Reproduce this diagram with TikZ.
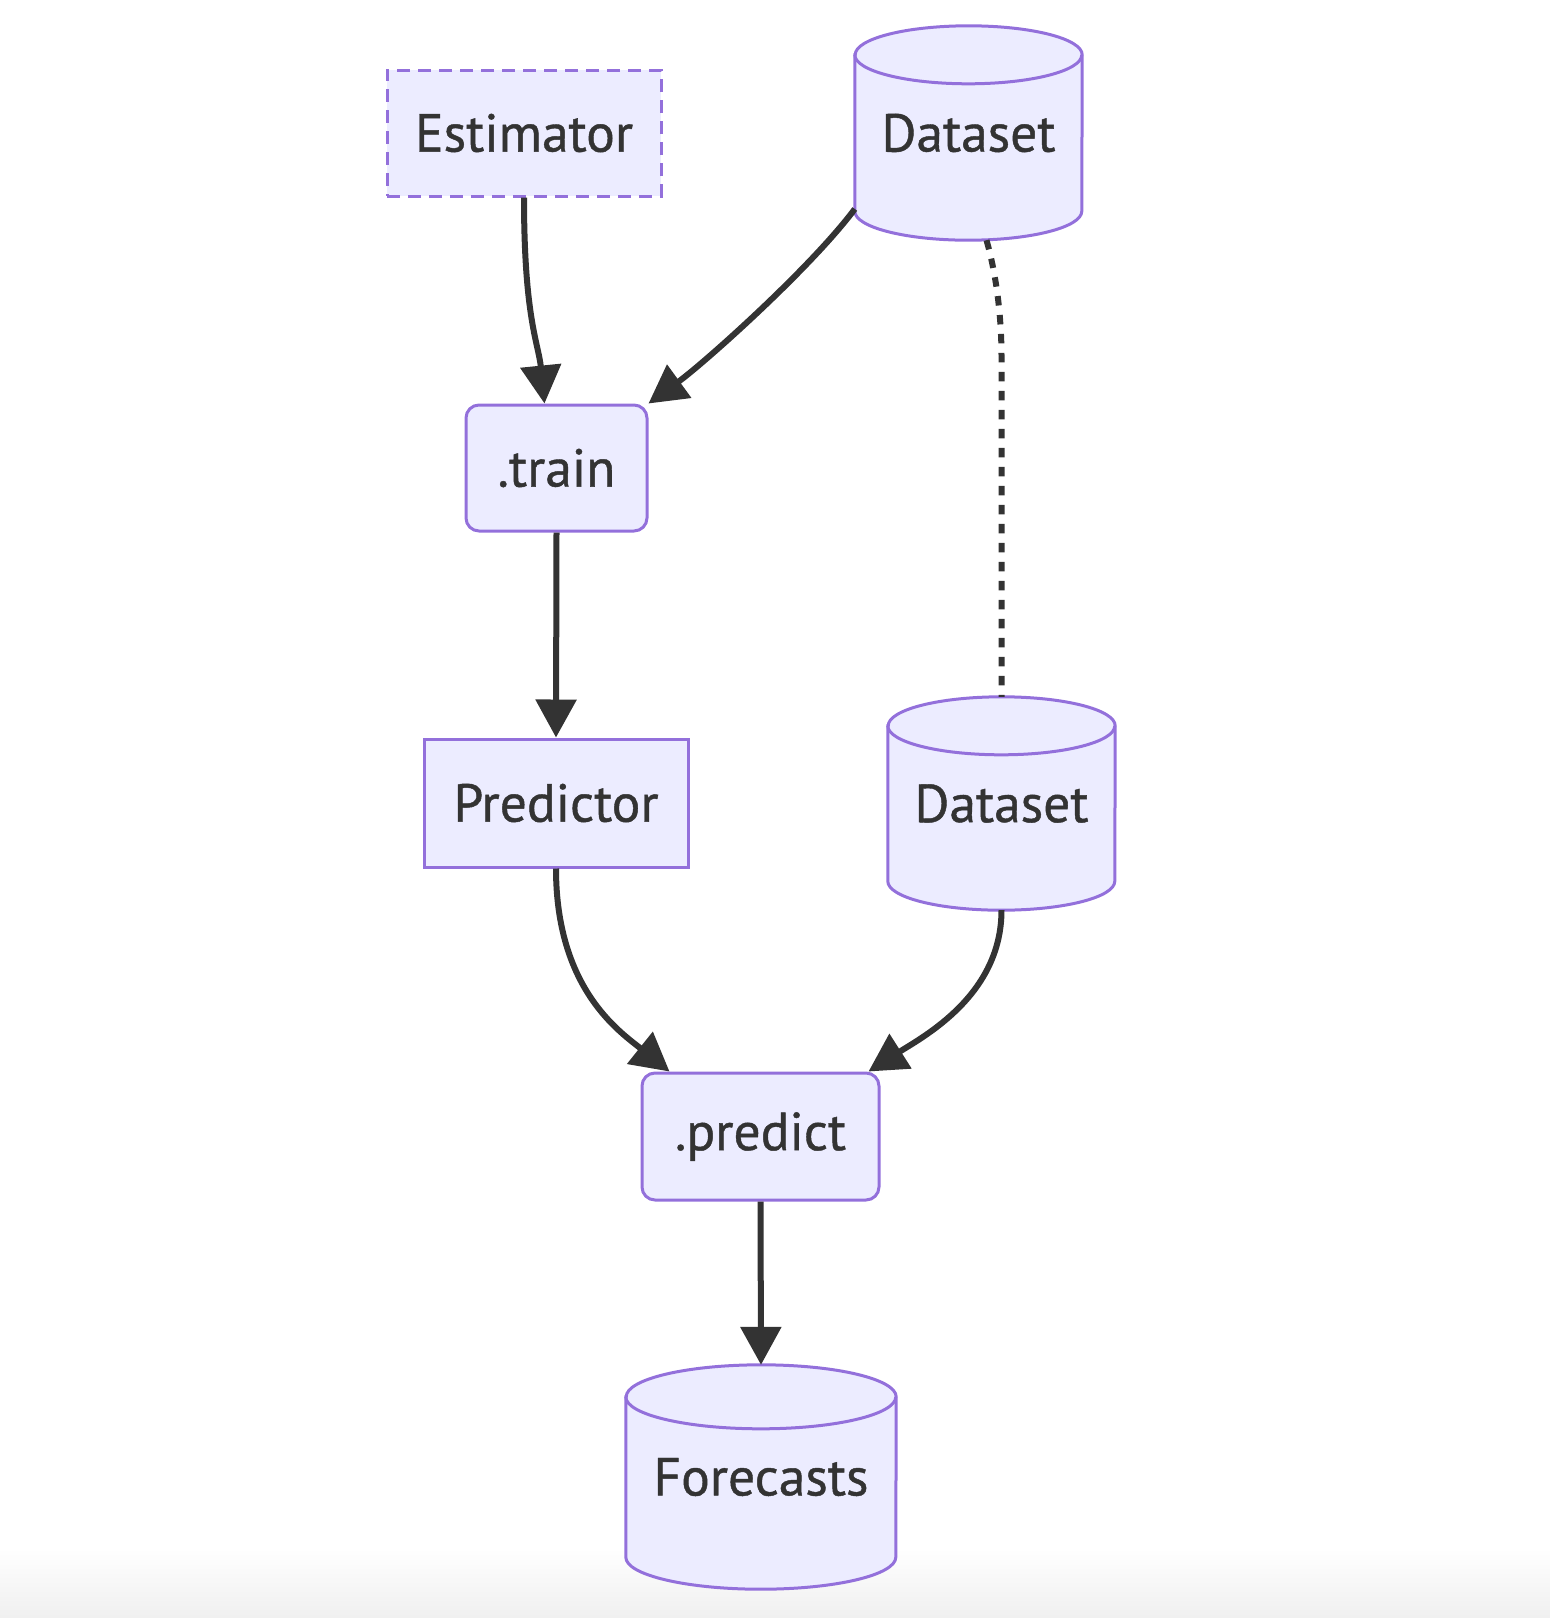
\documentclass[tikz,border=0pt]{standalone}
\usepackage{fontspec}
\setmainfont[FakeBold=0.8]{PT Sans}
\usetikzlibrary{arrows.meta,backgrounds}
\definecolor{nfill}{HTML}{ECECFF}
\definecolor{nline}{HTML}{9370DB}
\definecolor{eline}{HTML}{333333}
\newcommand\cylbody[3]{%
  \filldraw[cylfill] ([yshift=-#3]#1.north west) -- ([yshift=#3]#1.south west)
    arc[start angle=180,end angle=360,x radius=#2,y radius=#3]
    -- ([yshift=-#3]#1.north east)
    arc[start angle=0,end angle=180,x radius=#2,y radius=#3] -- cycle;
  \draw[nline, line width=3pt] ([yshift=-#3]#1.north west)
    arc[start angle=180,end angle=360,x radius=#2,y radius=#3];
}
\begin{document}
\begin{tikzpicture}[x=1pt,y=1pt,
  lbl/.style={font=\fontsize{53.5}{60}\selectfont, text=eline, inner sep=0pt},
  box/.style={lbl, draw=nline, fill=nfill, line width=3pt},
  rbox/.style={box, rounded corners=13pt},
  dbox/.style={box, dash pattern=on 13pt off 8pt},
  cylfill/.style={fill=nfill, draw=nline, line width=3pt},
  edge/.style={draw=eline, line width=6pt, -{Triangle[length=38pt,width=40pt]}},
  dotedge/.style={draw=eline, line width=6pt, dash pattern=on 9.5pt off 9.5pt}]
\useasboundingbox (0,0) rectangle (1550,-1618);

\node[dbox, minimum width=274pt, minimum height=126pt] (est) at (524,-133) {Estimator};
\node[lbl, minimum width=227pt, minimum height=214pt] (ds1) at (968.5,-133) {Dataset};
\node[rbox, minimum width=181pt, minimum height=126pt] (train) at (556.5,-468) {.train};
\node[box, minimum width=264pt, minimum height=128pt] (pred) at (556,-803) {Predictor};
\node[lbl, minimum width=227pt, minimum height=213pt] (ds2) at (1001.5,-803.5) {Dataset};
\node[rbox, minimum width=237pt, minimum height=127pt] (predict) at (760.5,-1136.5) {.predict};
\node[lbl, minimum width=270pt, minimum height=224pt] (fc) at (761,-1477) {Forecasts};

\begin{scope}[on background layer]
  \shade[top color=white, bottom color=black!6] (0,-1548) rectangle (1550,-1618);
  \cylbody{ds1}{113.5pt}{29pt}
  \cylbody{ds2}{113.5pt}{29pt}
  \cylbody{fc}{135pt}{32pt}
\end{scope}

\draw[edge] (est.south) .. controls +(0,-120) and +(-6,60) .. ([xshift=-12pt]train.north);
\draw[edge] ([yshift=-76pt]ds1.west) .. controls +(-45,-60) and +(55,40) .. (train.north east);
\draw[dotedge] ([xshift=18pt]ds1.south) .. controls +(10,-35) and +(0,40) .. ([yshift=340pt]ds2.north) -- (ds2.north);
\draw[edge] (train.south) -- (pred.north);
\draw[edge] (pred.south) .. controls +(0,-120) and +(-50,40) .. ([xshift=29pt]predict.north west);
\draw[edge] (ds2.south) .. controls +(0,-85) and +(55,35) .. ([xshift=-12pt]predict.north east);
\draw[edge] (predict.south) -- (fc.north);
\end{tikzpicture}
\end{document}
